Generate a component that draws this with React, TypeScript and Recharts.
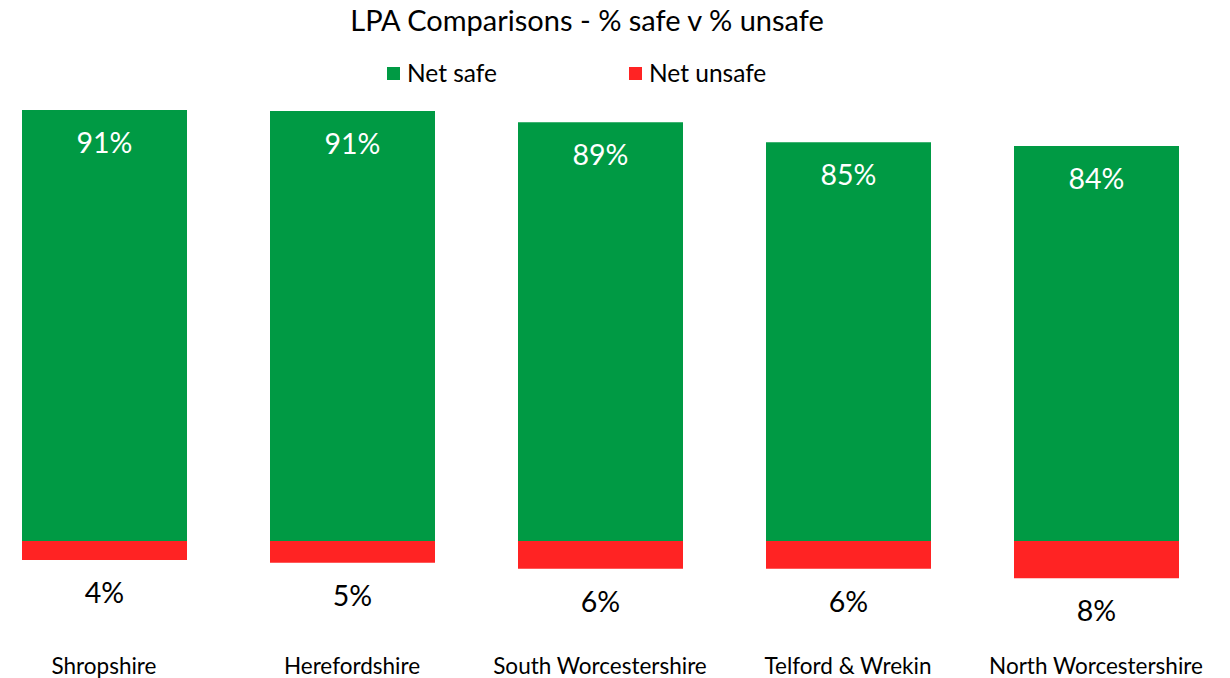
import React from 'react';
import { BarChart, Bar, XAxis, YAxis, LabelList } from 'recharts';

const categories = ['Shropshire', 'Herefordshire', 'South Worcestershire', 'Telford & Wrekin', 'North Worcestershire'];
const netSafe = [91.3, 91.1, 88.7, 84.5, 83.7];
const netUnsafe = [-4.0, -4.6, -5.9, -5.9, -7.9];
const safeLabels = ['91%', '91%', '89%', '85%', '84%'];
const unsafeLabels = ['4%', '5%', '6%', '6%', '8%'];

const data = categories.map((name, i) => ({
  name,
  safe: netSafe[i],
  unsafe: netUnsafe[i],
  safeLabel: safeLabels[i],
  unsafeLabel: unsafeLabels[i],
}));

const FONT = 'Lato, "Noto Sans", sans-serif';
const GREEN = '#009A44';
const RED = '#FF2323';

const SafeLabel = (props: any) => {
  const { x, y, width, index } = props;
  return (
    <text x={x + width / 2} y={y + 43} textAnchor="middle" fill="#fff" fontSize={28.5} fontFamily={FONT}>
      {safeLabels[index]}
    </text>
  );
};

const UnsafeLabel = (props: any) => {
  const { x, y, width, height, index } = props;
  const bottom = Math.max(y, y + height);
  return (
    <text x={x + width / 2} y={bottom + 43} textAnchor="middle" fill="#000" fontSize={28.5} fontFamily={FONT}>
      {unsafeLabels[index]}
    </text>
  );
};

const CatTick = (props: any) => {
  const { x, y, payload } = props;
  return (
    <text x={x} y={y + 31} textAnchor="middle" fill="#000" fontSize={22.5} fontFamily={FONT}>
      {payload.value}
    </text>
  );
};

export default function App() {
  return (
    <div style={{ position: 'absolute', left: -20, top: 0, width: 1240, height: 678, background: '#fff', fontFamily: FONT }}>
      <div style={{ position: 'absolute', left: 20, top: 0, width: 1174, textAlign: 'center', fontSize: 29, lineHeight: '40px', color: '#000', whiteSpace: 'nowrap' }}>
        LPA Comparisons - % safe v % unsafe
      </div>
      <div style={{ position: 'absolute', left: 407, top: 56, display: 'flex', alignItems: 'center', fontSize: 24.5, lineHeight: '34px', color: '#000', whiteSpace: 'nowrap' }}>
        <span style={{ width: 13, height: 13, background: GREEN, display: 'inline-block', marginRight: 7 }} />
        Net safe
      </div>
      <div style={{ position: 'absolute', left: 649, top: 56, display: 'flex', alignItems: 'center', fontSize: 24.5, lineHeight: '34px', color: '#000', whiteSpace: 'nowrap' }}>
        <span style={{ width: 13, height: 13, background: RED, display: 'inline-block', marginRight: 7 }} />
        Net unsafe
      </div>
      <div style={{ position: 'absolute', left: 0, top: 0 }}>
        <BarChart
          width={1240}
          height={678}
          data={data}
          stackOffset="sign"
          margin={{ top: 69, right: 0, left: 0, bottom: 0 }}
          barSize={165}
        >
          <XAxis dataKey="name" axisLine={false} tickLine={false} height={42.6} tick={<CatTick />} interval={0} />
          <YAxis hide domain={[-20, 100]} allowDataOverflow />
          <Bar dataKey="safe" stackId="a" fill={GREEN} isAnimationActive={false}>
            <LabelList dataKey="safeLabel" content={<SafeLabel />} />
          </Bar>
          <Bar dataKey="unsafe" stackId="a" fill={RED} isAnimationActive={false}>
            <LabelList dataKey="unsafeLabel" content={<UnsafeLabel />} />
          </Bar>
        </BarChart>
      </div>
    </div>
  );
}
